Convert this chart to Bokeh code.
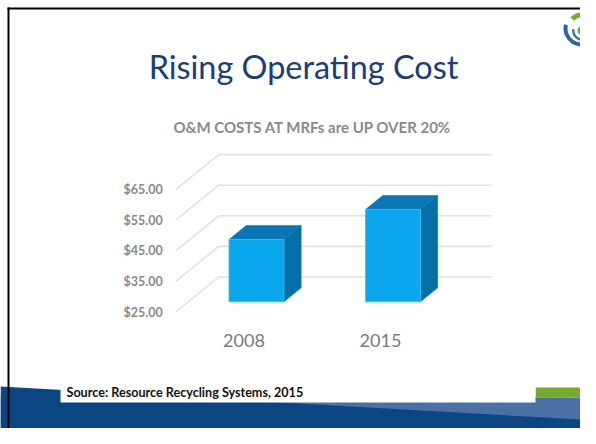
from bokeh.plotting import figure
from bokeh.models import Range1d
from bokeh.embed import file_html
from bokeh.resources import INLINE
from bokeh.core.properties import value

# ---------------- data ----------------
categories = ["2008", "2015"]
costs = [45.4, 55.2]
tick_values = [25, 35, 45, 55, 65]
tick_labels = ["$25.00", "$35.00", "$45.00", "$55.00", "$65.00"]
title_text = "Rising Operating Cost"
subtitle_text = "O&M COSTS AT MRFs are UP OVER 20%"
source_text = "Source: Resource Recycling Systems, 2015"

# ---------------- layout constants ----------------
W, H = 580, 428
VMIN = 25
PXU = 3.06        # pixels per dollar
YBASE = 311.5     # pixel row of VMIN at the front plane
CX0, CSP = 243.5, 136.5   # pixel x of first category, spacing
DXC = 43 / CSP    # full depth offset in category units
DYV = 35 / PXU    # full depth offset in value units
F0, F1 = 0.29, 0.69
BW = 55 / CSP

p = figure(width=W, height=H, output_backend="svg", toolbar_location=None,
           x_range=Range1d(0, W), y_range=Range1d(H, 0),
           x_axis_type=None, y_axis_type=None, min_border=0,
           min_border_left=0, min_border_right=0, min_border_top=0, min_border_bottom=0)
p.grid.visible = False
p.outline_line_color = None
p.background_fill_color = "white"
p.border_fill_color = "white"

p.extra_y_ranges = {"val": Range1d(VMIN - (H - YBASE) / PXU, VMIN + YBASE / PXU)}
p.extra_x_ranges = {"cat": Range1d(-CX0 / CSP, (W - CX0) / CSP)}

# ---------------- bottom band ----------------
p.patch([0, 600, 600, 0], [395, 397, 450, 450], fill_color="#4a70a6", line_color=None)
p.patch([0, 596, 596, 0], [386, 420, 450, 450], fill_color="#0b4582", line_color=None)
p.quad(left=535, right=600, top=387, bottom=397, fill_color="#77a832", line_color=None)
p.quad(left=60, right=535, top=378, bottom=402, fill_color="white", line_color=None)
p.text(x=[66], y=[391.5], text=[source_text], text_font=value("Lato"),
       text_font_style="bold", text_font_size="12.6px", text_color="#111111",
       text_align="left", text_baseline="middle")

# ---------------- slide border ----------------
p.quad(left=7, right=600, top=7, bottom=9, fill_color="black", line_color=None)
p.quad(left=7, right=9, top=7, bottom=450, fill_color="black", line_color=None)

# ---------------- title & logo ----------------
p.text(x=[303], y=[66], text=[title_text], text_font=value("Lato"),
       text_font_size="32.4px", text_color="#1a3d7c",
       text_align="center", text_baseline="middle")

p.annular_wedge(x=[581], y=[27], inner_radius=10, outer_radius=15,
                start_angle=0.2, end_angle=2.4, fill_color="#7aaa35", line_color=None)
p.circle(x=[582], y=[30], radius=5, fill_color="#7aaa35", line_color=None)
p.annular_wedge(x=[581], y=[28], inner_radius=14, outer_radius=18,
                start_angle=2.9, end_angle=5.3, fill_color="#2d64a0", line_color=None)
p.annular_wedge(x=[582], y=[30], inner_radius=8, outer_radius=10.5,
                start_angle=3.0, end_angle=4.9, fill_color="#3a7ab5", line_color=None)

# ---------------- chart ----------------
p.text(x=[312], y=[126], text=[subtitle_text], text_font=value("Lato"),
       text_font_style="bold", text_font_size="15px", text_color="#8a8a8a",
       text_align="center", text_baseline="middle")

gx, gy = [], []
for t in tick_values:
    gx.append([-0.5, -0.5 + DXC, 1.5 + DXC])
    gy.append([t, t + DYV, t + DYV])
p.multi_line(gx, gy, line_color="#e2e2e2", line_width=1.6,
             x_range_name="cat", y_range_name="val")

p.text(x=[-0.5 - 13 / CSP] * len(tick_values), y=tick_values, text=tick_labels,
       text_font=value("Lato"), text_font_style="bold", text_font_size="12.5px",
       text_color="#8a8a8a", text_align="right", text_baseline="middle",
       x_range_name="cat", y_range_name="val")

front_x, front_y, top_x, top_y, side_x, side_y = [], [], [], [], [], []
for i, v in enumerate(costs):
    xl, xr = i - BW / 2, i + BW / 2
    a, b = F0 * DXC, F1 * DXC
    c, d = F0 * DYV, F1 * DYV
    front_x.append([xl + a, xr + a, xr + a, xl + a])
    front_y.append([VMIN + c, VMIN + c, v + c, v + c])
    top_x.append([xl + a, xr + a, xr + b, xl + b])
    top_y.append([v + c, v + c, v + d, v + d])
    side_x.append([xr + a, xr + b, xr + b, xr + a])
    side_y.append([VMIN + c, VMIN + d, v + d, v + c])

p.patches(side_x, side_y, fill_color="#046ea6", line_color="#046ea6", line_width=0.5,
          x_range_name="cat", y_range_name="val")
p.patches(top_x, top_y, fill_color="#0a77b4", line_color="#0a77b4", line_width=0.5,
          x_range_name="cat", y_range_name="val")
p.patches(front_x, front_y, fill_color="#0aa6ee", line_color="#3cc0f5", line_width=0.8,
          x_range_name="cat", y_range_name="val")

p.text(x=list(range(len(categories))), y=[VMIN - 9.3] * len(categories), text=categories,
       text_font=value("Lato"), text_font_size="18px", text_color="#7b7b7b",
       text_align="center", text_baseline="middle",
       x_range_name="cat", y_range_name="val")

open("out.html", "w").write(file_html(p, INLINE))
